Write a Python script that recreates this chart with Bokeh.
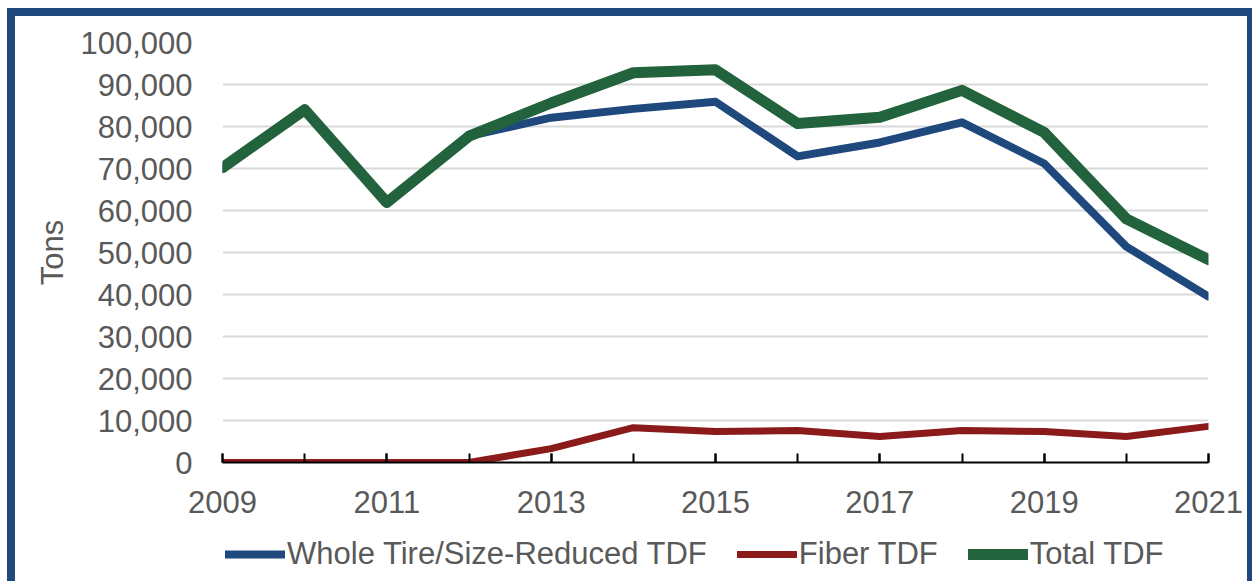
from bokeh.plotting import figure
from bokeh.layouts import column
from bokeh.models import FixedTicker, NumeralTickFormatter, Legend, LegendItem, Range1d
from bokeh.embed import file_html
from bokeh.resources import INLINE

years = [2009, 2010, 2011, 2012, 2013, 2014, 2015, 2016, 2017, 2018, 2019, 2020, 2021]
whole_tire = [70200, 84000, 61900, 77700, 82100, 84200, 85900, 72900, 76200, 81000, 71200, 51400, 39500]
fiber_tdf = [0, 0, 0, 0, 3300, 8300, 7400, 7600, 6200, 7600, 7400, 6200, 8600]
total_tdf = [70200, 84000, 61900, 77700, 85600, 92800, 93500, 80700, 82200, 88600, 78600, 58000, 48300]

x_label_years = [2009, 2011, 2013, 2015, 2017, 2019, 2021]
y_ticks = [0, 10000, 20000, 30000, 40000, 50000, 60000, 70000, 80000, 90000, 100000]

series_names = ["Whole Tire/Size-Reduced TDF", "Fiber TDF", "Total TDF"]
colors = ["#1F497D", "#8B1A1A", "#22623C"]
widths = [8, 7, 11]

FONT = "Liberation Sans"
TXT = "#595959"
BORDER = "#1F497D"

W = 1252
shadow_top = ("inset 7px 0 0 0 #ffffff, inset 0 8px 0 0 #ffffff, "
              f"inset 15px 0 0 0 {BORDER}, inset 0 16px 0 0 {BORDER}, inset -5px 0 0 0 {BORDER}")
shadow_bottom = f"inset 7px 0 0 0 #ffffff, inset 15px 0 0 0 {BORDER}, inset -5px 0 0 0 {BORDER}"

p = figure(frame_width=986, frame_height=420, output_backend="svg", toolbar_location=None,
           x_range=Range1d(2009, 2021), y_range=Range1d(0, 100000),
           min_border_left=222, min_border_right=44, min_border_top=42, min_border_bottom=0,
           background_fill_color="white", border_fill_alpha=0,
           styles={"box-shadow": shadow_top})
p.outline_line_color = None

series = [whole_tire, fiber_tdf, total_tdf]
for vals, c, w in zip(series, colors, widths):
    p.line(years, vals, line_color=c, line_width=w, line_join="round", line_cap="round")

# x axis
p.xaxis.ticker = FixedTicker(ticks=x_label_years, minor_ticks=years)
p.xaxis.axis_line_color = "black"
p.xaxis.axis_line_width = 2
p.xaxis.major_tick_in = 9
p.xaxis.major_tick_out = 0
p.xaxis.major_tick_line_width = 2
p.xaxis.major_tick_line_color = "black"
p.xaxis.minor_tick_in = 9
p.xaxis.minor_tick_out = 0
p.xaxis.minor_tick_line_width = 2
p.xaxis.minor_tick_line_color = "black"
p.xaxis.major_label_text_font = FONT
p.xaxis.major_label_text_font_size = "31px"
p.xaxis.major_label_text_color = TXT
p.xaxis.major_label_standoff = 28

# y axis
p.yaxis.ticker = FixedTicker(ticks=y_ticks)
p.yaxis.formatter = NumeralTickFormatter(format="0,0")
p.yaxis.axis_line_color = None
p.yaxis.major_tick_line_color = None
p.yaxis.minor_tick_line_color = None
p.yaxis.major_label_text_font = FONT
p.yaxis.major_label_text_font_size = "31px"
p.yaxis.major_label_text_color = TXT
p.yaxis.major_label_standoff = 24
p.yaxis.axis_label = "Tons"
p.yaxis.axis_label_text_font = FONT
p.yaxis.axis_label_text_font_size = "31px"
p.yaxis.axis_label_text_font_style = "normal"
p.yaxis.axis_label_text_color = TXT
p.yaxis.axis_label_standoff = 7

p.xgrid.grid_line_color = None
p.ygrid.grid_line_color = "#D9D9D9"
p.ygrid.grid_line_width = 2

# legend strip below the chart (series drawn out of its view, only the legend shows)
lg = figure(width=W, height=66, output_backend="svg", toolbar_location=None,
            x_axis_location=None, y_axis_location=None,
            x_range=Range1d(0, 1), y_range=Range1d(0, 1),
            min_border_left=0, min_border_right=0, min_border_top=0, min_border_bottom=0,
            background_fill_alpha=0, border_fill_alpha=0,
            styles={"box-shadow": shadow_bottom})
lg.outline_line_color = None
lg.grid.visible = False
items = []
for name, vals, c, w in zip(series_names, series, colors, widths):
    r = lg.line(years, vals, line_color=c, line_width=w, line_cap="round")
    items.append(LegendItem(label=name, renderers=[r]))

legend = Legend(items=items, orientation="horizontal", location=(3, 9),
                glyph_width=60, label_standoff=2, spacing=30, padding=2, margin=0,
                label_text_font=FONT, label_text_font_size="31px", label_text_color=TXT,
                border_line_color=None, background_fill_alpha=0)
lg.add_layout(legend)

layout = column(p, lg, spacing=0)
open("out.html", "w").write(file_html(layout, INLINE))
